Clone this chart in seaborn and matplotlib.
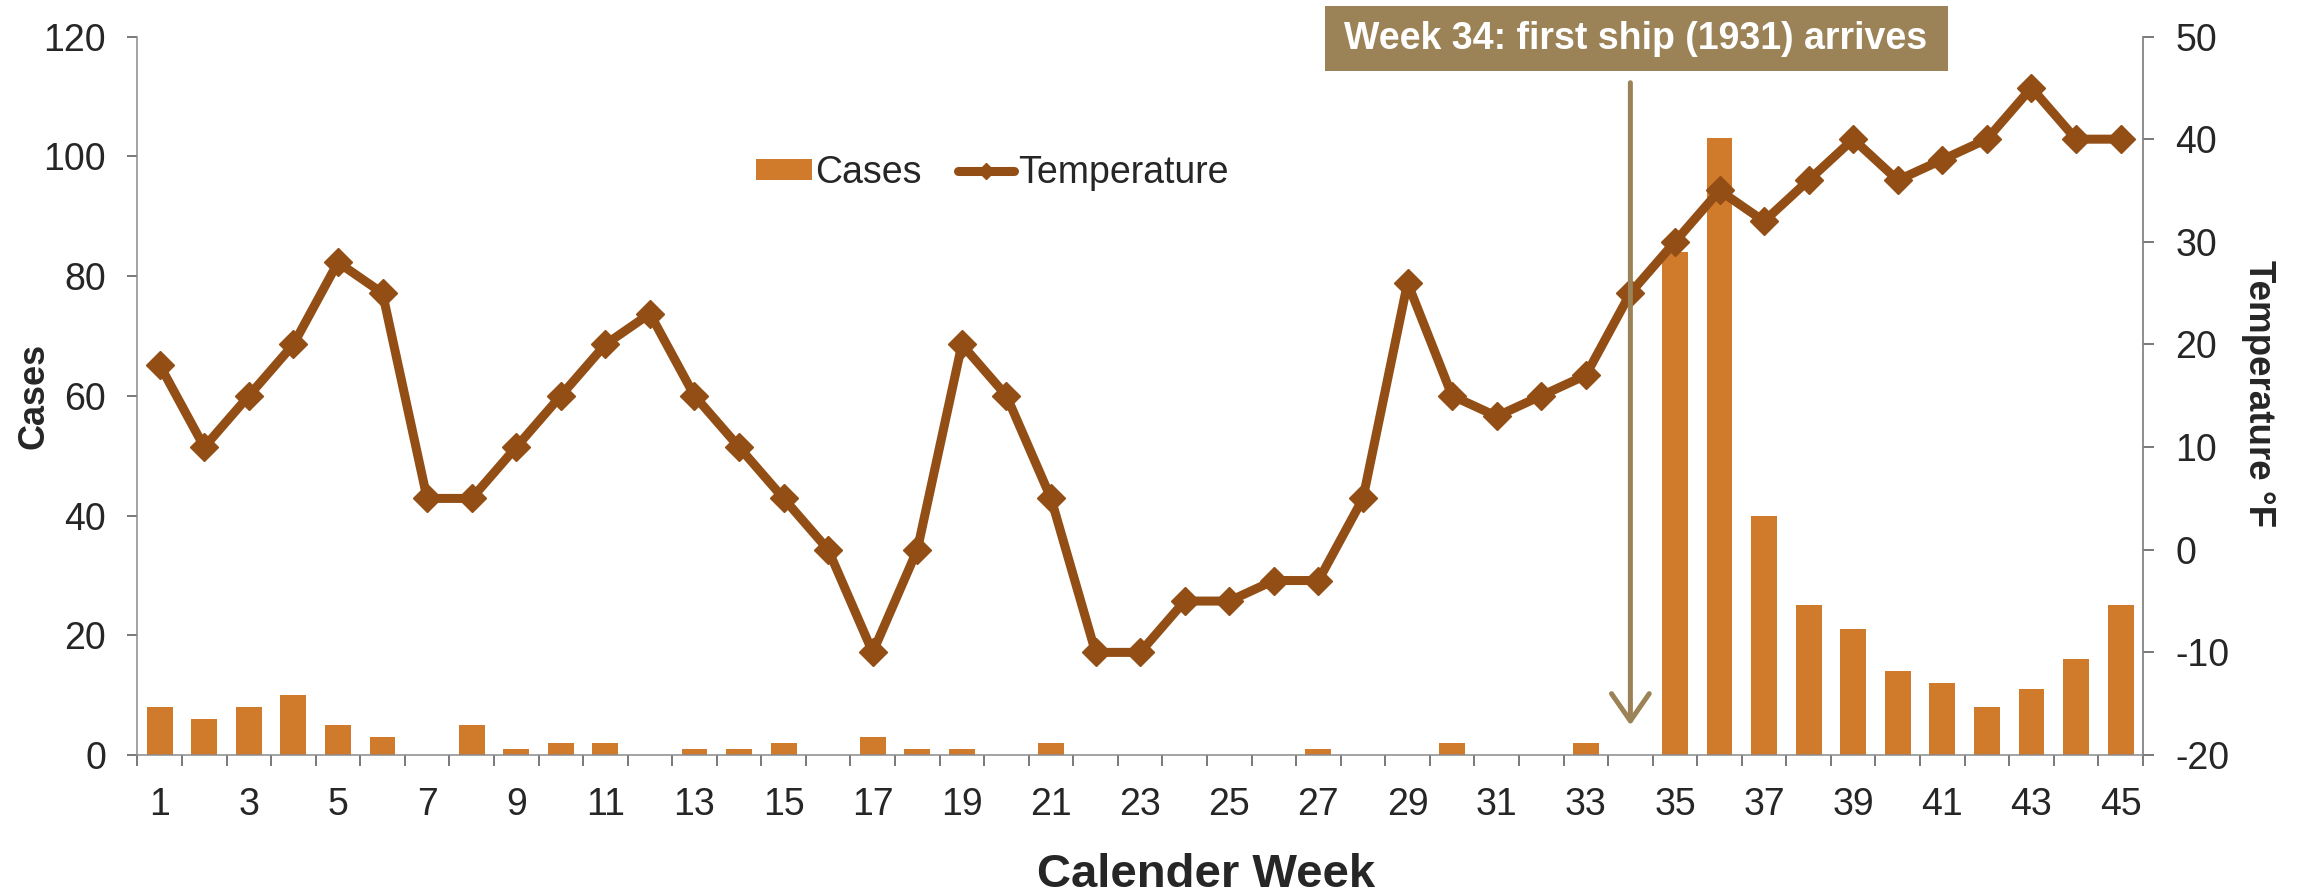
import numpy as np
import pandas as pd
import seaborn as sns
import matplotlib.pyplot as plt
from matplotlib import font_manager
from matplotlib.patches import Patch, Rectangle
from matplotlib.lines import Line2D

# data
weeks = list(range(1, 46))
cases = [8, 6, 8, 10, 5, 3, 0, 5, 1, 2, 2, 0, 1, 1, 2, 0, 3, 1, 1, 0,
         2, 0, 0, 0, 0, 0, 1, 0, 0, 2, 0, 0, 2, 0, 84, 103, 40, 25, 21, 14,
         12, 8, 11, 16, 25]
temperature = [18, 10, 15, 20, 28, 25, 5, 5, 10, 15, 20, 23, 15, 10, 5, 0, -10, 0, 20, 15,
               5, -10, -10, -5, -5, -3, -3, 5, 26, 15, 13, 15, 17, 25, 30, 35, 32, 36, 40, 36,
               38, 40, 45, 40, 40]
week_ticks = list(range(1, 46, 2))
week_labels = [str(w) for w in week_ticks]
ship_week = 34
note = 'Week 34: first ship (1931) arrives'

bar_color = '#D07A2C'
line_color = '#924E14'
note_color = '#9B8357'
grey = '#8A8A8A'
tick_grey = '#555555'

sns.set_style('ticks')
plt.rcParams['font.family'] = ['Liberation Sans', 'DejaVu Sans']
plt.rcParams['axes.unicode_minus'] = False

df = pd.DataFrame({'week': weeks, 'cases': cases, 'temp': temperature})

fig = plt.figure(figsize=(22.98, 8.93), dpi=100)
ax = fig.add_axes([0.0598, 0.1545, 0.8727, 0.8046])

sns.barplot(data=df, x='week', y='cases', native_scale=True, color=bar_color,
            saturation=1, width=0.58, linewidth=0, ax=ax)

ax2 = ax.twinx()
sns.lineplot(data=df, x='week', y='temp', color=line_color, lw=6.5, marker='D',
             markersize=14, markeredgecolor=line_color, markeredgewidth=1,
             solid_joinstyle='round', ax=ax2)

# arrow for the ship arrival
ax2.annotate('', xy=(ship_week, -17.1), xytext=(ship_week, 45.5),
             arrowprops=dict(arrowstyle='->, head_length=0.49, head_width=0.34',
                             color=note_color, lw=3.6, mutation_scale=40,
                             shrinkA=0, shrinkB=0, capstyle='round'), zorder=6)

# axes limits and ticks
ax.set_xlim(0.5, 45.5)
ax2.set_xlim(0.5, 45.5)
ax.set_ylim(0, 120)
ax.set_yticks(range(0, 121, 20))
ax2.set_ylim(-20, 50)
ax2.set_yticks(range(-20, 51, 10))
ax.set_xticks(week_ticks)
ax.set_xticklabels(week_labels)
ax.set_xticks(np.arange(0.5, 46, 1), minor=True)

ax.tick_params(axis='x', which='major', length=0, pad=23, labelsize=27)
ax.tick_params(axis='x', which='minor', length=8, width=1.1, color=tick_grey, direction='out')
ax.tick_params(axis='y', length=7.5, width=1.1, color=tick_grey, labelsize=27, pad=15, direction='out')
ax2.tick_params(axis='y', length=8, width=1.1, color=tick_grey, labelsize=27, pad=15.5, direction='out')

for a in (ax, ax2):
    a.spines['top'].set_visible(False)
    for s in a.spines.values():
        s.set_color(grey)
        s.set_linewidth(1.1)
ax2.spines['left'].set_visible(False)
ax2.spines['bottom'].set_visible(False)

ax.set_xlabel('Calender Week', fontsize=34, fontweight='bold')
ax.xaxis.set_label_coords(0.533, -0.137)
ax.set_ylabel('Cases', fontsize=26, fontweight='bold')
ax.yaxis.set_label_coords(-0.043, 0.50)
ax2.set_ylabel('Temperature °F', fontsize=26.5, fontweight='bold', rotation=270, va='bottom')
ax2.yaxis.set_label_coords(1.0488, 0.503)

# legend
handles = [Patch(facecolor=bar_color, edgecolor='none'),
           Line2D([], [], color=line_color, lw=6.5, marker='D', markersize=8,
                  solid_capstyle='round')]
leg = ax2.legend(handles, ['Cases', 'Temperature'], loc='center left',
                 bbox_to_anchor=(0.3082, 0.81), ncol=2, frameon=False, fontsize=27,
                 borderpad=0, borderaxespad=0, handlelength=1.5, handleheight=0.5,
                 handletextpad=0.1, columnspacing=0.95)

# note box above the arrow
try:
    font_manager.findfont(font_manager.FontProperties(family='Liberation Sans Narrow', weight='bold'),
                          fallback_to_default=False)
    note_family, note_size = ['Liberation Sans Narrow', 'DejaVu Sans'], 32
except ValueError:
    note_family, note_size = ['Liberation Sans', 'DejaVu Sans'], 27
fig.patches.append(Rectangle((1325 / 2298, 1 - 71 / 893), 623 / 2298, 65 / 893,
                             transform=fig.transFigure, facecolor=note_color,
                             edgecolor='none', zorder=10))
fig.text(1636 / 2298, 1 - 39 / 893, note, ha='center', va='center', color='white',
         fontsize=note_size, fontweight='bold', family=note_family, zorder=11)

fig.savefig('out.png', dpi=100)
